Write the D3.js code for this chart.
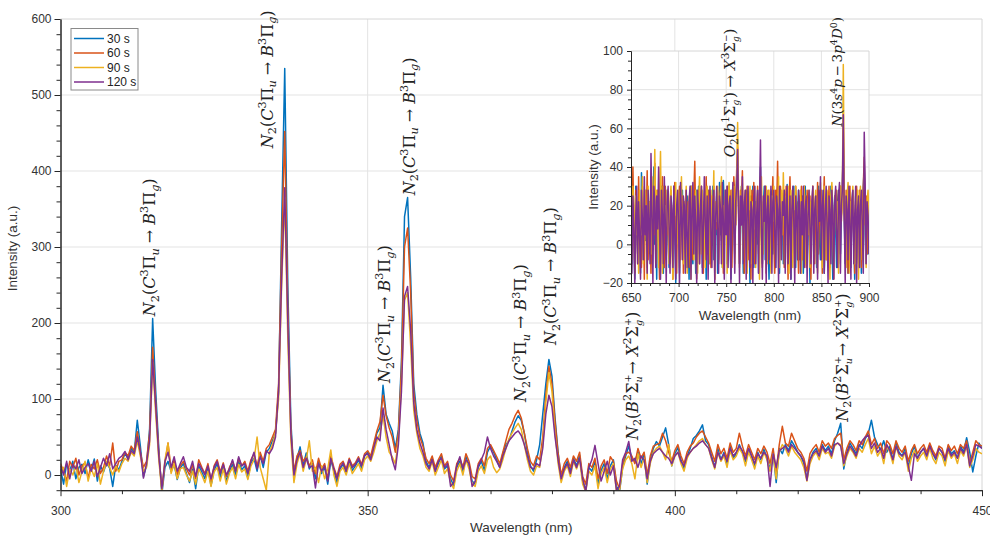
<!DOCTYPE html>
<html><head><meta charset="utf-8">
<script src="https://cdn.jsdelivr.net/npm/d3@7/dist/d3.min.js"></script>
<style>body{margin:0;background:#fff}svg{display:block}</style>
</head><body><svg id="c" width="990" height="539"></svg>
<script>
// ---------- DATA ----------
const seriesNames = ["30 s", "60 s", "90 s", "120 s"];
const mainStart = 300, mainStep = 0.5;
const s30 = [8,-12,15,5,18,-5,10,14,2,20, 6,21,-8,12,4,16,9,-15,13,7, 18,28,22,35,30,72,38,-2,12,60, 206,110,35,-25,10,18,5,14,-6,9, 15,2,-10,8,-18,12,4,-5,10,-14, 6,15,-3,11,-8,5,14,0,18,7, 12,-4,16,22,5,26,10,30,35,45, 55,110,330,535,250,70,0,22,37,12, 29,8,15,-5,18,2,10,-12,20,5, -10,8,14,3,18,6,12,20,9,25, 30,22,38,55,62,118,80,68,58,35, 60,150,340,365,260,120,80,55,42,18, 10,22,5,15,25,8,12,-5,-14,10, 18,4,24,12,-8,-12,10,18,6,30, 38,30,20,10,28,40,45,58,70,78, 72,55,30,12,5,20,40,80,120,152, 130,75,30,-5,10,18,5,22,12,26, -8,-20,10,5,18,-12,6,15,-5,12, 20,-15,-22,10,25,38,22,18,30,15, 28,-12,20,35,44,38,50,62,40,12, 28,36,20,8,25,35,48,52,58,66, 45,40,24,10,35,20,30,15,38,22, 28,40,30,18,35,25,12,30,20,34, 22,8,30,-10,35,28,40,32,45,38, 30,25,15,-5,20,30,35,25,40,32, 38,28,45,55,68,8,30,42,35,28, 40,35,48,55,72,50,40,33,45,30, 38,20,42,30,25,35,10,28,38,22, 30,35,25,40,28,20,35,30,18,38, 28,32,22,38,30,49,30,4,25,42, 35];
const s60 = [15,5,-8,18,10,22,0,12,16,-4, 14,8,20,2,10,25,12,42,5,18, 20,30,25,38,32,57,30,10,18,55, 168,95,30,-20,15,42,8,20,0,12, 18,8,0,14,-5,20,10,2,15,-8, 12,20,4,16,-2,10,18,6,22,12, 18,5,20,28,12,30,18,35,40,50, 60,120,300,452,220,60,5,25,32,18, 24,12,20,2,22,8,15,-5,25,10, -2,14,18,8,22,12,16,24,14,28, 32,25,42,58,70,105,78,62,50,30, 55,140,300,325,240,110,72,50,38,22, 15,25,10,20,28,12,18,0,-8,15, 22,10,28,18,-2,-5,15,22,12,35, 40,32,24,15,30,45,60,68,78,85, 75,55,35,18,12,25,20,50,105,143, 120,70,28,0,15,22,10,25,18,30, -2,-12,15,10,22,-5,12,20,2,24, 18,-8,-18,15,28,30,25,15,35,22, 30,0,25,38,40,42,55,45,30,18, 32,40,25,15,30,38,42,50,55,58, 50,42,30,18,40,28,35,22,42,30, 35,55,38,25,40,30,20,35,28,38, 30,15,35,5,40,64,42,38,55,45, 35,30,22,5,28,35,40,30,45,38, 42,35,48,52,55,20,35,45,40,32, 45,40,50,58,40,48,35,42,28,45, 40,28,45,35,30,38,18,32,40,28, 35,40,30,42,32,25,38,35,22,40, 32,38,28,40,35,45,15,30,45,40, 38];
const s90 = [2,10,-15,8,0,12,-10,5,18,-8, 8,-2,15,-12,5,18,10,0,12,4, 15,22,18,30,25,45,25,5,10,40, 148,80,20,-22,20,42,2,15,-5,8, 10,0,-8,5,-12,8,0,-10,5,-15, 4,10,-8,8,-12,2,10,-5,14,4, 8,-6,12,20,50,10,-5,-20,30,40, 55,100,250,365,180,45,-10,15,28,5, 20,45,5,10,-10,12,-5,8,33,0, -15,5,10,0,15,2,8,15,5,20, 25,18,30,45,55,78,50,30,24,15, 45,120,230,240,170,85,55,35,25,10, 5,18,0,10,20,2,8,-10,-18,5, 15,0,20,8,-12,-15,5,12,2,20, 25,10,3,8,20,35,48,55,62,68, 60,40,20,5,0,12,10,40,95,135, 110,55,15,-10,5,12,-2,18,8,20, -12,-22,5,0,12,-18,2,10,-10,8, 15,-22,-20,8,20,25,15,-5,28,10, 22,-10,15,30,35,38,30,20,40,12, 25,30,15,5,22,30,35,40,45,48, 40,35,20,8,30,18,25,10,32,20, 25,35,28,12,30,20,8,25,15,30, 20,5,28,-5,30,40,35,25,38,30, 25,20,10,-8,15,25,30,20,35,28, 30,22,38,42,40,12,25,35,30,22, 35,30,40,48,28,38,25,32,15,38, 30,15,38,25,20,30,5,22,32,18, 25,30,20,35,22,15,30,25,12,32, 22,28,15,32,25,38,10,20,35,30, 28];
const s120 = [12,0,18,-5,14,8,20,2,10,15, 5,18,-2,10,22,12,28,8,15,22, 25,31,20,32,28,50,30,-4,15,45, 152,90,25,-18,18,30,10,24,5,15, 24,10,5,18,-2,15,8,0,12,-5, 10,18,2,14,0,8,20,5,24,12, 15,2,18,30,8,24,15,32,28,35, 50,110,260,378,200,55,0,20,30,10, 22,10,12,-17,15,5,12,-8,22,8, -5,10,16,5,20,10,14,22,12,26, 28,20,36,50,45,88,60,40,20,7, 40,110,235,248,190,95,60,42,30,15, 8,20,5,18,22,10,15,-15,-10,12, 24,8,20,15,-15,-8,12,20,30,50, 35,25,18,10,25,35,45,50,55,58, 52,40,25,10,8,15,12,35,80,105, 90,50,20,-5,8,15,2,20,10,22, -5,-22,10,20,39,15,-8,5,18,0, 12,-20,-15,20,30,44,18,22,10,25, 20,-5,18,28,32,35,30,25,22,15, 25,30,18,12,25,30,35,38,42,45, 40,35,22,10,30,20,28,18,35,25, 30,38,32,20,35,25,15,28,22,30, 25,-15,28,10,32,35,38,30,40,35, 30,25,18,-7,20,28,32,25,38,30, 35,25,40,42,38,15,28,38,32,25, 38,45,50,52,35,42,30,35,22,40, 32,20,38,28,25,30,12,-7,28,22, 30,35,25,38,28,22,35,30,20,35, 25,30,22,35,28,40,12,25,40,38, 35];

const insetStart = 650, insetStep = 1;
const i30 = [15,-10,22,5,-18,30,8,-5,25,12, -15,37,10,-8,20,2,28,-12,15,22, 5,35,-10,18,40,0,12,-18,25,8, 20,-5,30,10,-15,22,15,-8,28,5, -12,18,25,2,-10,30,12,-20,15,20, 8,-15,22,5,28,-8,12,18,-12,25, 10,-18,15,30,2,-10,20,8,-15,28, 12,30,-5,18,25,-12,5,22,10,-18, 15,28,0,-10,20,12,30,-8,18,5, 25,-15,10,32,5,30,-12,33,20,8, 28,-10,15,30,2,-18,22,12,25,-5, 18,35,45,20,-10,15,30,8,-15,22, 12,28,-8,18,5,-20,25,10,30,-12, 15,22,0,28,-15,10,40,5,-10,20, 30,-8,12,25,2,-18,20,15,28,-5, 10,22,-12,18,30,5,-15,25,12,20, -10,28,8,15,31,-5,20,10,-18,25, 15,30,2,-12,22,10,28,-8,18,5, 25,-15,12,30,8,-10,20,15,-20,22, 10,28,-5,18,25,-12,15,30,2,-8, 20,12,28,-15,10,22,5,25,-10,18, 30,2,-18,15,25,8,-12,22,28,10, -5,18,30,50,15,-10,22,12,-15,25, 8,-12,20,28,5,-18,15,22,10,-8, 25,12,-15,18,30,40,5,-10,20,-5, 15];
const i60 = [25,-5,40,10,-15,28,18,-10,35,5, 20,-12,30,15,-18,25,8,38,-8,20, 12,-15,30,20,5,42,-10,18,28,2, -18,25,10,35,0,-12,30,18,5,22, 15,-10,28,8,-18,20,32,2,-15,25, 18,30,-8,12,25,-15,20,10,28,-5, 22,5,-12,30,15,-8,25,43,10,-18, 20,28,-10,15,30,5,-15,22,12,35, -5,18,28,10,-12,25,15,30,-18,20, 8,28,-10,18,30,2,25,-15,15,22, 12,30,-8,20,5,28,-12,18,35,25, 10,38,50,15,-10,28,20,38,5,-15, 25,12,30,-8,18,22,-18,28,10,32, -10,20,15,30,-5,25,35,8,-12,22, 18,30,-15,12,28,5,-10,25,20,35, 2,-15,28,18,43,10,-8,30,20,5, 25,-12,15,30,8,-18,22,35,12,-5, 28,15,-10,30,20,5,-15,25,12,30, -8,22,30,10,-12,28,15,5,25,-18, 18,30,8,-10,25,15,32,-5,20,10, 28,-15,18,35,5,-8,25,12,30,-12, 20,30,10,-18,25,15,28,2,-10,22, 30,12,25,60,18,-5,28,10,-15,20, 30,-8,15,25,5,-15,22,30,12,-10, 28,15,-12,20,30,45,10,25,-5,18, 20];
const i90 = [10,-8,30,18,-12,25,5,22,-15,28, 15,5,35,-10,20,28,8,-18,30,12, 22,-5,35,10,18,49,0,28,15,-12, 25,48,5,-15,30,12,20,-8,28,15, -10,22,30,5,-18,25,15,32,0,20, 28,-12,15,35,8,-10,22,18,30,-15, 12,25,5,-18,30,20,-8,15,28,10, -15,22,35,12,-5,28,18,8,-12,25, 30,10,-10,20,28,5,15,38,-18,22, 12,30,-8,18,25,35,-12,20,8,28, 15,-15,22,32,10,-5,28,18,30,-10, 20,35,63,25,-12,18,30,12,-8,22, 28,5,-15,25,18,30,-10,15,22,8, 30,-12,20,25,5,-18,28,35,12,-5, 22,15,30,-10,18,28,5,-15,25,12, 30,18,-8,22,10,35,-12,20,28,5, 37,15,-10,25,12,30,-15,18,28,8, -12,25,18,30,5,-8,22,15,28,-15, 20,10,30,-10,25,18,5,28,-12,22, 15,30,-5,20,28,10,-15,25,18,32, 5,-12,22,30,15,-8,28,20,10,-18, 25,32,12,-10,20,28,5,22,-15,18, 30,15,22,93,28,10,-12,25,32,5, -15,22,18,30,8,-10,25,15,28,-18, 20,30,12,-8,25,35,15,-12,22,28, 10];
const i120 = [20,-15,25,8,-20,15,30,-10,22,5, -18,28,12,-8,35,5,20,-15,28,10, -10,47,15,-20,30,22,-12,25,8,40, 5,-18,28,15,-10,35,12,-20,22,30, 8,-15,25,18,-12,30,5,-18,20,28, 10,-20,32,15,-8,25,20,-15,28,5, -12,22,30,-18,18,32,-5,25,10,-20, 28,15,-10,20,30,-15,8,35,12,-8, 25,-18,18,30,5,-12,22,28,-20,15, 30,8,-15,25,18,-10,32,12,-18,28, 5,30,-12,20,25,-20,15,32,8,-15, 22,30,49,18,-20,25,10,35,-10,20, 28,-18,15,30,5,-12,22,18,-20,25, 30,-10,15,28,-15,22,54,8,-18,25, 12,30,-20,18,25,-8,15,30,-15,22, 28,5,-12,25,18,-20,30,12,-8,22, 15,28,-15,20,30,-10,8,25,-18,18, 30,12,-20,25,15,-8,28,20,-15,22, 5,30,-12,18,25,-20,15,28,8,-10, 22,30,-15,18,25,5,-18,28,12,35, -8,20,28,-15,15,30,8,-20,25,18, -10,28,15,-18,22,30,5,-12,25,32, -15,20,28,67,15,-20,25,18,-8,30, 12,-18,22,28,-10,15,30,-20,18,25, -12,20,28,8,-15,58,30,-10,22,15, -5];

const xTicks = [300, 350, 400, 450];
const yTicks = [0, 100, 200, 300, 400, 500, 600];
const insetXTicks = [650, 700, 750, 800, 850, 900];
const insetYTicks = [-20, 0, 20, 40, 60, 80, 100];

// annotation anchors (data units: wavelength, intensity at bottom of label)
const annWl = [314.55, 333.7, 352.8, 356.8, 375.0, 379.9, 393.1, 427.3];
const annY = [209, 430, 121, 368, 96, 171, 46, 70];
const annKind = ["C", "C", "C", "C", "C", "C", "B", "B"];
const insetAnnWl = [754, 867.4];
const insetAnnY = [45, 61];
const insetAnnKind = ["O2", "N"];

// ---------- DRAWING ----------
const colors = ["#0072BD", "#D95319", "#EDB120", "#7E2F8E"];
const mainSeries = [s30, s60, s90, s120];
const insetSeries = [i30, i60, i90, i120];
const svg = d3.select("#c");
const SANS = "'Liberation Sans', Arial, Helvetica, sans-serif";
const SERIF = "'DejaVu Serif', 'Liberation Serif', serif";
const axisCol = "#262626", gridCol = "#e3e3e3", boxCol = "#d6d6d6", textCol = "#333";

const x = d3.scaleLinear([300, 450], [60.5, 982]);
const y = d3.scaleLinear([-20, 600], [490.2, 19]);

const gMain = svg.append("g");
gMain.selectAll(".gx").data(xTicks.slice(1, -1)).join("line")
  .attr("x1", d => x(d)).attr("x2", d => x(d)).attr("y1", y(600)).attr("y2", y(-20))
  .attr("stroke", gridCol);
gMain.selectAll(".gy").data(yTicks.slice(0, -1)).join("line")
  .attr("y1", d => y(d)).attr("y2", d => y(d)).attr("x1", x(300)).attr("x2", x(450))
  .attr("stroke", gridCol);
gMain.append("line").attr("x1", x(300)).attr("x2", x(450)).attr("y1", y(600)).attr("y2", y(600)).attr("stroke", boxCol);
gMain.append("line").attr("x1", x(450)).attr("x2", x(450)).attr("y1", y(600)).attr("y2", y(-20)).attr("stroke", boxCol);

svg.append("clipPath").attr("id", "clipMain").append("rect")
  .attr("x", x(300)).attr("y", y(600)).attr("width", x(450) - x(300)).attr("height", y(-20) - y(600));

const line = d3.line().x((d, i) => x(mainStart + i * mainStep)).y(d => y(d));
const lines = svg.append("g").attr("clip-path", "url(#clipMain)");
mainSeries.forEach((s, k) => {
  lines.append("path").datum(s).attr("d", line).attr("fill", "none")
    .attr("stroke", colors[k]).attr("stroke-width", 1.5).attr("stroke-linejoin", "round");
});

function styleAxis(g) {
  g.select(".domain").attr("stroke", axisCol);
  g.selectAll(".tick line").attr("stroke", axisCol);
  g.selectAll("text").attr("fill", textCol).style("font-family", SANS).style("font-size", "12px");
}
const yMinor = d3.range(-20, 601, 20).filter(v => v % 100 !== 0);
const xMinor = d3.range(300, 451, 10).filter(v => v % 50 !== 0);
svg.append("g").attr("transform", `translate(${x(300)},0)`)
  .call(d3.axisLeft(y).tickValues(yMinor).tickSize(4).tickSizeOuter(0).tickFormat(""))
  .call(styleAxis);
svg.append("g").attr("transform", `translate(${x(300)},0)`)
  .call(d3.axisLeft(y).tickValues(yTicks).tickSize(6).tickSizeOuter(0).tickPadding(3))
  .call(styleAxis);
svg.append("g").attr("transform", `translate(0,${y(-20)})`)
  .call(d3.axisBottom(x).tickValues(xMinor).tickSize(4).tickSizeOuter(0).tickFormat(""))
  .call(styleAxis);
svg.append("g").attr("transform", `translate(0,${y(-20)})`)
  .call(d3.axisBottom(x).tickValues(xTicks).tickSize(6).tickSizeOuter(0).tickPadding(10))
  .call(styleAxis);

svg.append("text").attr("x", (x(300) + x(450)) / 2).attr("y", 532).attr("text-anchor", "middle")
  .style("font-family", SANS).style("font-size", "13.5px").attr("fill", textCol).text("Wavelength (nm)");
svg.append("text").attr("transform", `translate(17,${(y(600) + y(-20)) / 2 - 6}) rotate(-90)`)
  .attr("text-anchor", "middle").style("font-family", SANS).style("font-size", "13.5px")
  .attr("fill", textCol).text("Intensity (a.u.)");

// rich math label: segments laid out along a rotated baseline
function mathLabel(parent, segs, cx, by, fs) {
  const g = parent.append("g").attr("transform", `translate(${cx + 0.32 * fs},${by}) rotate(-90)`);
  let cur = 0, lastW = 0;
  segs.forEach(([t, st]) => {
    let size = fs, dy = 0, it = false, stack = false;
    if (st === "i") it = true;
    if (st === "sub" || st === "subi") { size = fs * 0.7; dy = fs * 0.22; it = st === "subi"; }
    if (st === "sup") { size = fs * 0.7; dy = -fs * 0.42; }
    if (st === "ssubi") { size = fs * 0.6; dy = fs * 0.3; it = true; stack = true; }
    if (st === "ssup") { size = fs * 0.6; dy = -fs * 0.42; }
    const el = g.append("text").attr("x", stack ? cur - lastW : cur).attr("y", dy)
      .attr("xml:space", "preserve").style("white-space", "pre")
      .style("font-family", SERIF).style("font-size", size + "px")
      .style("font-style", it ? "italic" : "normal").attr("fill", "#222").text(t);
    const w = el.node().getComputedTextLength();
    if (stack) { cur = cur - lastW + Math.max(w, lastW); } else { cur += w; }
    lastW = w;
  });
}
const labelSegs = {
  C: [["N","i"],["2","sub"],["(",""],["C","i"],["3","sup"],["Π",""],["u","subi"],[" → ",""],["B","i"],["3","sup"],["Π",""],["g","subi"],[")",""]],
  B: [["N","i"],["2","sub"],["(",""],["B","i"],["2","sup"],["Σ",""],["+","ssup"],["u","ssubi"],["→ ",""],["X","i"],["2","sup"],["Σ",""],["+","ssup"],["g","ssubi"],[")",""]],
  O2: [["O","i"],["2","sub"],["(",""],["b","i"],["1","sup"],["Σ",""],["+","ssup"],["g","ssubi"],[")",""],[" → ",""],["X","i"],["3","sup"],["Σ",""],["−","ssup"],["g","ssubi"],[")",""]],
  N: [["N","i"],["(",""],["3",""],["s","i"],["4","sup"],["p","i"],["\u2009−\u2009",""],["3",""],["p","i"],["4","sup"],["D","i"],["0","sup"],[")",""]]
};
const annG = svg.append("g");
annWl.forEach((w, i) => mathLabel(annG, labelSegs[annKind[i]], x(w), y(annY[i]), 16));

// legend
const lg = svg.append("g");
lg.append("rect").attr("x", 71).attr("y", 28.5).attr("width", 67).attr("height", 61.5)
  .attr("fill", "#fff").attr("stroke", "#8a8a8a").attr("stroke-width", 1);
seriesNames.forEach((n, k) => {
  const yy = 38.5 + k * 14.5;
  lg.append("line").attr("x1", 74).attr("x2", 104).attr("y1", yy).attr("y2", yy)
    .attr("stroke", colors[k]).attr("stroke-width", 1.5);
  lg.append("text").attr("x", 107).attr("y", yy + 4.2).style("font-family", SANS)
    .style("font-size", "12px").attr("fill", "#222").text(n);
});

// ---------- INSET ----------
const xi = d3.scaleLinear([650, 900], [631, 869]);
const yi = d3.scaleLinear([-20, 100], [283, 51]);
const ins = svg.append("g");
ins.append("rect").attr("x", xi(650)).attr("y", yi(100)).attr("width", xi(900) - xi(650))
  .attr("height", yi(-20) - yi(100)).attr("fill", "#fff");
ins.selectAll(".igx").data(insetXTicks.slice(1, -1)).join("line")
  .attr("x1", d => xi(d)).attr("x2", d => xi(d)).attr("y1", yi(100)).attr("y2", yi(-20)).attr("stroke", gridCol);
ins.selectAll(".igy").data(insetYTicks.slice(1, -1)).join("line")
  .attr("y1", d => yi(d)).attr("y2", d => yi(d)).attr("x1", xi(650)).attr("x2", xi(900)).attr("stroke", gridCol);
ins.append("line").attr("x1", xi(650)).attr("x2", xi(900)).attr("y1", yi(100)).attr("y2", yi(100)).attr("stroke", boxCol);
ins.append("line").attr("x1", xi(900)).attr("x2", xi(900)).attr("y1", yi(100)).attr("y2", yi(-20)).attr("stroke", boxCol);
svg.append("clipPath").attr("id", "clipIn").append("rect")
  .attr("x", xi(650)).attr("y", yi(100)).attr("width", xi(900) - xi(650)).attr("height", yi(-20) - yi(100));
const iline = d3.line().x((d, i) => xi(insetStart + i * insetStep)).y(d => yi(d));
const ilines = ins.append("g").attr("clip-path", "url(#clipIn)");
insetSeries.forEach((s, k) => {
  ilines.append("path").datum(s).attr("d", iline).attr("fill", "none")
    .attr("stroke", colors[k]).attr("stroke-width", 1.5).attr("stroke-linejoin", "round");
});
const iyMinor = d3.range(-20, 101, 5).filter(v => v % 20 !== 0);
const ixMinor = d3.range(650, 901, 10).filter(v => v % 50 !== 0);
ins.append("g").attr("transform", `translate(${xi(650)},0)`)
  .call(d3.axisLeft(yi).tickValues(iyMinor).tickSize(3).tickSizeOuter(0).tickFormat("")).call(styleAxis);
ins.append("g").attr("transform", `translate(${xi(650)},0)`)
  .call(d3.axisLeft(yi).tickValues(insetYTicks).tickSize(4).tickSizeOuter(0).tickPadding(4)).call(styleAxis);
ins.append("g").attr("transform", `translate(0,${yi(-20)})`)
  .call(d3.axisBottom(xi).tickValues(ixMinor).tickSize(3).tickSizeOuter(0).tickFormat("")).call(styleAxis);
ins.append("g").attr("transform", `translate(0,${yi(-20)})`)
  .call(d3.axisBottom(xi).tickValues(insetXTicks).tickSize(4).tickSizeOuter(0).tickPadding(6)).call(styleAxis);
ins.append("text").attr("x", (xi(650) + xi(900)) / 2).attr("y", 320).attr("text-anchor", "middle")
  .style("font-family", SANS).style("font-size", "13.5px").attr("fill", textCol).text("Wavelength (nm)");
ins.append("text").attr("transform", `translate(598,${(yi(100) + yi(-20)) / 2}) rotate(-90)`)
  .attr("text-anchor", "middle").style("font-family", SANS).style("font-size", "13.5px")
  .attr("fill", textCol).text("Intensity (a.u.)");
const insetAnnSize = [15, 13.5];
insetAnnWl.forEach((w, i) => mathLabel(ins, labelSegs[insetAnnKind[i]], xi(w), yi(insetAnnY[i]), insetAnnSize[i]));
</script></body></html>
